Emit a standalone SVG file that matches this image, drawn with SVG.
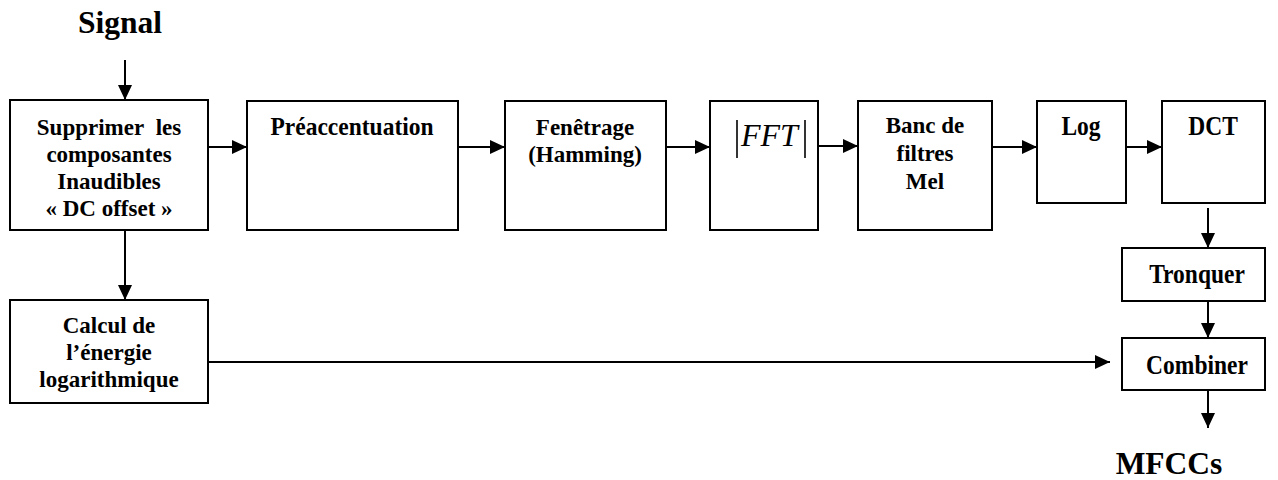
<svg xmlns="http://www.w3.org/2000/svg" width="1278" height="480" viewBox="0 0 1278 480">
<style>
.box{fill:#fff;stroke:#000;stroke-width:2}
.t{font-family:"Liberation Serif","Times New Roman",serif;font-weight:bold;font-size:23.5px;text-anchor:middle;fill:#000}
.m{font-family:"Liberation Serif","Times New Roman",serif;font-weight:bold;font-size:23px;text-anchor:middle;fill:#000}
.big{font-family:"Liberation Serif","Times New Roman",serif;font-weight:bold;font-size:31.5px;text-anchor:middle;fill:#000}
.fft{font-family:"Liberation Serif","Times New Roman",serif;font-style:italic;font-size:32px;fill:#000}
.c{stroke:#000;stroke-width:2;fill:none;marker-end:url(#ah)}
</style>
<defs>
<marker id="ah" markerUnits="userSpaceOnUse" markerWidth="15" markerHeight="14" refX="15" refY="7" orient="auto">
<path d="M0,0 L15,7 L0,14 z" fill="#000"/>
</marker>
</defs>
<text class="big" x="120" y="33">Signal</text>
<text class="big" x="1169" y="474">MFCCs</text>
<g id="connectors">
<line class="c" x1="125" y1="60" x2="125" y2="100"/>
<line class="c" x1="208" y1="147" x2="247" y2="147"/>
<line class="c" x1="458" y1="147" x2="505" y2="147"/>
<line class="c" x1="666" y1="147" x2="710" y2="147"/>
<line class="c" x1="818" y1="146" x2="858" y2="146"/>
<line class="c" x1="992" y1="147" x2="1037" y2="147"/>
<line class="c" x1="1122" y1="147" x2="1162" y2="147"/>
<line class="c" x1="1208" y1="208" x2="1208" y2="248"/>
<line class="c" x1="1208" y1="301" x2="1208" y2="338"/>
<line class="c" x1="1208" y1="390" x2="1208" y2="428"/>
<line class="c" x1="125" y1="230" x2="125" y2="300"/>
<line class="c" x1="208" y1="362" x2="1110" y2="362"/>
</g>
<g id="n1">
<rect class="box" x="10" y="100" width="198" height="130"/>
<text class="m"><tspan x="109" y="135">Supprimer&#160; les</tspan><tspan x="109" y="162">composantes</tspan><tspan x="109" y="189">Inaudibles</tspan><tspan x="109" y="216">« DC offset »</tspan></text>
</g>
<g id="n2">
<rect class="box" x="247" y="101" width="211" height="129"/>
<text class="t" transform="translate(352,135) scale(1,1.1)">Préaccentuation</text>
</g>
<g id="n3">
<rect class="box" x="505" y="101" width="161" height="129"/>
<text class="m"><tspan x="585" y="135">Fenêtrage</tspan><tspan x="585" y="162">(Hamming)</tspan></text>
</g>
<g id="n4">
<rect class="box" x="710" y="101" width="108" height="129"/>
<line x1="737" y1="120" x2="737" y2="158" stroke="#000" stroke-width="1.6"/>
<text class="fft" x="741" y="146">FFT</text>
<line x1="805" y1="120" x2="805" y2="158" stroke="#000" stroke-width="1.6"/>
</g>
<g id="n5">
<rect class="box" x="858" y="101" width="134" height="129"/>
<text class="m"><tspan x="925" y="133">Banc de</tspan><tspan x="925" y="161">filtres</tspan><tspan x="925" y="189">Mel</tspan></text>
</g>
<g id="n6">
<rect class="box" x="1037" y="101" width="89" height="102"/>
<text class="t" transform="translate(1081,135) scale(1,1.15)">Log</text>
</g>
<g id="n7">
<rect class="box" x="1162" y="101" width="103" height="102"/>
<text class="t" transform="translate(1213,135) scale(1,1.15)">DCT</text>
</g>
<g id="n8">
<rect class="box" x="1122" y="248" width="143" height="53"/>
<text class="t" transform="translate(1197,283) scale(1,1.15)">Tronquer</text>
</g>
<g id="n9">
<rect class="box" x="1122" y="338" width="143" height="52"/>
<text class="t" transform="translate(1197,374) scale(1,1.15)">Combiner</text>
</g>
<g id="n10">
<rect class="box" x="10" y="300" width="198" height="103"/>
<text class="m"><tspan x="109" y="333">Calcul de</tspan><tspan x="109" y="360">l’énergie</tspan><tspan x="109" y="387">logarithmique</tspan></text>
</g>
</svg>
